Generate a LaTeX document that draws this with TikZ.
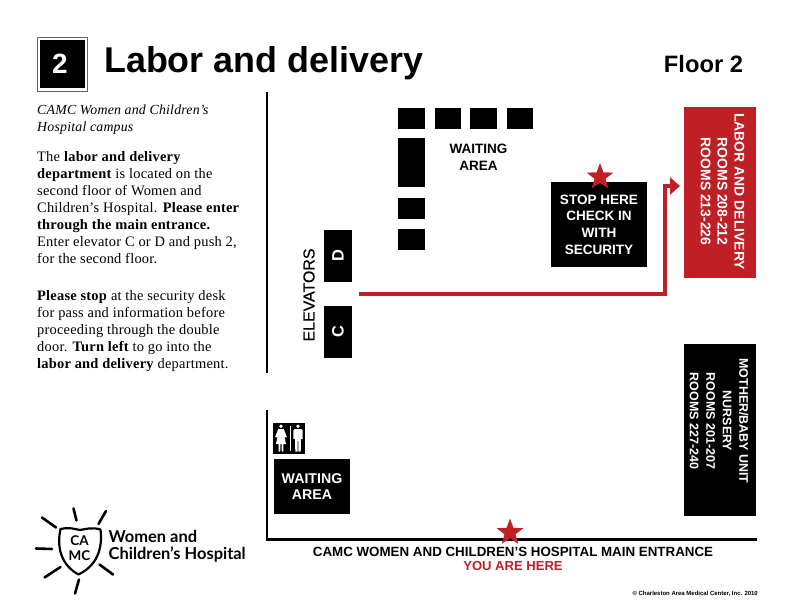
\documentclass[tikz,border=0pt]{standalone}
\usepackage{fontspec}
\setmainfont[LetterSpace=1.5]{Liberation Serif}
\setsansfont{Liberation Sans}
\newfontfamily\logofont{Lato}
\newfontfamily\elevfont[FakeBold=0.5]{Liberation Sans}
\usetikzlibrary{shapes.geometric,arrows.meta}
\definecolor{camcred}{RGB}{190,32,38}
\tikzset{
  blk/.style={fill=black,draw=none,inner sep=0pt,outer sep=0pt,text=white,font=\sffamily\bfseries\fontsize{13.6}{16.8}\selectfont,align=center},
  redbox/.style={blk,fill=camcred},
  body/.style={anchor=north west,inner sep=0pt,align=left,font=\rmfamily\fontsize{14.5}{16.95}\selectfont},
  lbl/.style={inner sep=0pt,font=\sffamily\bfseries\fontsize{13.6}{16.8}\selectfont,align=center},
  wall/.style={line width=2.4pt,black},
  startag/.style={star,star points=5,star point ratio=2.4,fill=camcred,draw=none,minimum size=28pt,inner sep=0pt},
  ray/.style={line width=2.6pt,line cap=round},
  person/.style={fill=white,draw=none}
}
\begin{document}
\begin{tikzpicture}[x=1bp,y=-1bp]
\useasboundingbox (0,0) rectangle (792,612);
\fill[white] (0,0) rectangle (792,612);
% number tag
\draw[line width=0.8pt,black!60] (37,37) rectangle (87.5,91);
\node[blk,minimum width=45pt,minimum height=48pt] (numbox) at (62.5,64) {};
\node[inner sep=0pt,text=white,font=\sffamily\bfseries\fontsize{28}{30}\selectfont] (num) at (60,63.5) {2};
\node[anchor=base west,inner sep=0pt,font=\sffamily\bfseries\fontsize{36}{40}\selectfont] (title) at (104,73) {Labor and delivery};
\node[inner sep=0pt,font=\sffamily\bfseries\fontsize{23.8}{26}\selectfont] (floor) at (703.5,64) {Floor 2};
% left text
\node[body,font=\rmfamily\itshape\fontsize{13.9}{16.95}\selectfont] (campus) at (37,104.5) {CAMC Women and Children’s\\Hospital campus};
\node[body] (para1) at (37,151.5) {The \textbf{labor and delivery}\\\textbf{department} is located on the\\second floor of Women and\\Children’s Hospital. \textbf{Please enter}\\\textbf{through the main entrance.}\\Enter elevator C or D and push 2,\\for the second floor.};
\node[body] (para2) at (37,290.5) {\textbf{Please stop} at the security desk\\for pass and information before\\proceeding through the double\\door. \textbf{Turn left} to go into the\\\textbf{labor and delivery} department.};
% walls
\coordinate (w1a) at (267,92); \coordinate (w1b) at (267,373);
\coordinate (w2a) at (267,410); \coordinate (w2b) at (267,539.5); \coordinate (w2c) at (757,539.5);
\draw[wall] (w1a) -- (w1b);
\draw[wall] (w2a) -- (w2b) -- (w2c);
% seating
\fill (398,108) rectangle (425,129);
\fill (435,108) rectangle (461,129);
\fill (470,108) rectangle (497,129);
\fill (507,108) rectangle (533,129);
\fill (398,138) rectangle (425,187);
\fill (398,198) rectangle (425,219);
\fill (398,229) rectangle (425,250);
\node[lbl] (wait1) at (478.5,157) {WAITING\\AREA};
% elevators
\node[blk,minimum width=28pt,minimum height=52pt,font=\sffamily\bfseries\fontsize{16.5}{18}\selectfont] (elevD) at (338,256) {\rotatebox{90}{D}};
\node[blk,minimum width=28pt,minimum height=52pt,font=\sffamily\bfseries\fontsize{16.5}{18}\selectfont] (elevC) at (338,332) {\rotatebox{90}{C}};
\node[lbl,rotate=90,font=\elevfont\fontsize{16}{18}\selectfont] (elev) at (309,295) {ELEVATORS};
% security
\node[blk,minimum width=96pt,minimum height=85pt] (stop) at (599,224.5) {STOP HERE\\CHECK IN\\WITH\\SECURITY};
\node[startag] (star1) at (600,177) {};
% rooms
\node[redbox,minimum width=72pt,minimum height=171pt] (labor) at (720,192.5) {};
\node[rotate=-90,lbl,text=white,font=\sffamily\bfseries\fontsize{14}{17}\selectfont] (labortext) at (722.5,191.5) {LABOR AND DELIVERY\\ROOMS 208-212\\ROOMS 213-226};
\node[blk,minimum width=72pt,minimum height=172pt] (mother) at (720,430) {};
\node[rotate=-90,lbl,text=white,font=\sffamily\bfseries\fontsize{12.5}{16.6}\selectfont] (mothertext) at (719,421) {MOTHER/BABY UNIT\\NURSERY\\ROOMS 201-207\\ROOMS 227-240};
% route
\coordinate (routeA) at (359,294);
\coordinate (routeB) at (665,294);
\coordinate (routeC) at (665,186);
\coordinate (routeD) at (680,186);
\draw[camcred,line width=3.4pt,-{Triangle[length=10pt,width=17pt]}] (routeA) -- (routeB) -- (routeC) -- (routeD);
% lower waiting
\node[blk,minimum width=76pt,minimum height=55pt,font=\sffamily\bfseries\fontsize{14.2}{16.8}\selectfont] (wait2) at (312,486.5) {WAITING\\AREA};
\node[blk,minimum width=32pt,minimum height=31pt] (rest) at (289,438.5) {};
\fill[person] (281,426.2) circle (1.9);
\fill[person] (278.3,429) -- (283.7,429) -- (287,437) -- (284.6,437.5) -- (286,444) -- (283.4,444) -- (283.4,451.5) -- (281.8,451.5) -- (281.5,444) -- (280.5,444) -- (280.2,451.5) -- (278.6,451.5) -- (278.6,444) -- (276,444) -- (277.4,437.5) -- (275,437) -- cycle;
\draw[white,line width=0.5pt] (290,426) -- (290,451);
\fill[person] (298,426.2) circle (1.9);
\fill[person] (294.7,429) -- (301.3,429) -- (302.7,430.5) -- (302.7,439) -- (301,439) -- (300.7,451.5) -- (298.5,451.5) -- (298.3,441) -- (297.7,441) -- (297.5,451.5) -- (295.3,451.5) -- (295,439) -- (293.3,439) -- (293.3,430.5) -- cycle;
% entrance
\node[startag] (star2) at (510,532.5) {};
\node[lbl,font=\sffamily\bfseries\fontsize{13.4}{15}\selectfont] (entrance) at (513,552) {CAMC WOMEN AND CHILDREN’S HOSPITAL MAIN ENTRANCE};
\node[lbl,font=\sffamily\bfseries\fontsize{13.1}{15}\selectfont,text=camcred] (here) at (513,566.5) {YOU ARE HERE};
\node[anchor=base east,inner sep=0pt,font=\sffamily\bfseries\fontsize{6}{8}\selectfont] (copy) at (758,595) {© Charleston Area Medical Center, Inc. 2010};
% logo
\draw[ray] (73.5,508.5) -- (76.5,520.5);
\draw[ray] (106,511) -- (98.5,524);
\draw[ray] (42,517.5) -- (56,527.5);
\draw[ray] (36,548.5) -- (52,549);
\draw[ray] (44.5,577.5) -- (60.5,567);
\draw[ray] (79,579.5) -- (75,593.5);
\draw[ray] (99.5,564.5) -- (113,574.5);
\draw[line width=2.2pt,line join=round] (60.5,529) .. controls (70,527) and (74,529) .. (80,530) .. controls (86,529) and (92,527) .. (100.5,529.5) .. controls (103,550) and (96,566) .. (78.5,574.5) .. controls (63,566) and (56,550) .. (60.5,529) -- cycle;
\node[inner sep=0pt,font=\logofont\bfseries\fontsize{13.5}{14}\selectfont] (logoCA) at (79.5,540.5) {CA};
\node[inner sep=0pt,font=\logofont\bfseries\fontsize{13.5}{14}\selectfont] (logoMC) at (79.5,556) {MC};
\node[anchor=base west,inner sep=0pt,font=\logofont\bfseries\fontsize{16.5}{17}\selectfont] (logo1) at (108.5,542.5) {Women and};
\node[anchor=base west,inner sep=0pt,font=\logofont\bfseries\fontsize{16.5}{17}\selectfont] (logo2) at (108.5,559) {Children’s Hospital};
\end{tikzpicture}
\end{document}
